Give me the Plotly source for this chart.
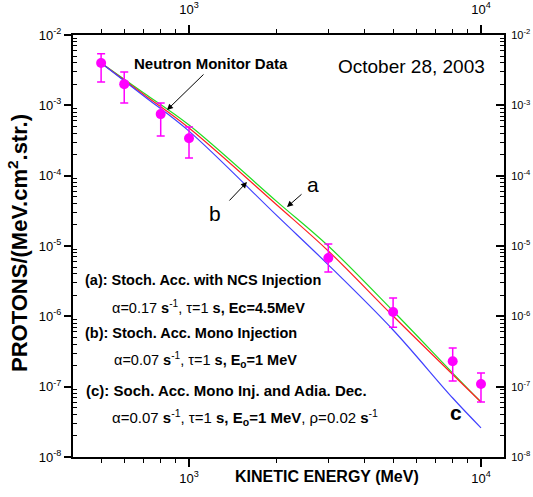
import plotly.graph_objects as go

# ---- data ----
energy_pts = [500, 600, 800, 1000, 3000, 5000, 8000, 10000]
flux_pts = [4.0e-3, 2.0e-3, 7.5e-4, 3.4e-4, 6.75e-6, 1.15e-6, 2.3e-7, 1.09e-7]
flux_hi = [5.4e-3, 2.98e-3, 1.08e-3, 4.9e-4, 1.07e-5, 1.82e-6, 3.55e-7, 1.56e-7]
flux_lo = [2.15e-3, 1.08e-3, 3.66e-4, 1.78e-4, 4.27e-6, 7.0e-7, 1.2e-7, 6.05e-8]

energy_curve = [500, 700, 1000, 2000, 3000, 5000, 8000, 10000]
curve_a = [4.0e-3, 1.5e-3, 5.25e-4, 4.28e-5, 1.0e-5, 1.19e-6, 1.56e-7, 6.05e-8]   # green
curve_b = [4.0e-3, 1.43e-3, 4.77e-4, 3.83e-5, 8.5e-6, 1.01e-6, 1.49e-7, 6.05e-8]  # red
curve_c = [4.0e-3, 1.36e-3, 4.3e-4, 2.7e-5, 5.4e-6, 6.4e-7, 6.9e-8, 2.6e-8]      # blue

x_tickvals = [1e3, 1e4]
x_ticktext = ["10<sup>3</sup>", "10<sup>4</sup>"]
y_exps = [-8, -7, -6, -5, -4, -3, -2]
y_tickvals = [10.0 ** e for e in y_exps]
y_ticktext = ["10<sup>%d</sup>" % e for e in y_exps]

x_minor = [m * 10 ** d for d in (2, 3) for m in range(2, 10) if 400 <= m * 10 ** d <= 9000]
y_minor = [m * 10.0 ** d for d in range(-8, -2) for m in range(2, 10)]

FONT = "Liberation Sans, Arial, sans-serif"

# plot area in pixels
L, R, T, B = 73, 504, 35, 457
W, H = 533, 497

def P(px, py):
    return (px - L) / (R - L), (B - py) / (B - T)

fig = go.Figure()
fig.add_trace(go.Scatter(x=energy_curve, y=curve_a, mode="lines",
                         line=dict(color="#22dd22", width=1.2, shape="spline"), showlegend=False))
fig.add_trace(go.Scatter(x=energy_curve, y=curve_b, mode="lines",
                         line=dict(color="#ff2020", width=1.2, shape="spline"), showlegend=False))
fig.add_trace(go.Scatter(x=energy_curve, y=curve_c, mode="lines",
                         line=dict(color="#4040ff", width=1.2, shape="spline"), showlegend=False))
fig.add_trace(go.Scatter(
    x=energy_pts, y=flux_pts, mode="markers",
    marker=dict(color="#ff00ff", size=10),
    error_y=dict(type="data", symmetric=False,
                 array=[h - f for h, f in zip(flux_hi, flux_pts)],
                 arrayminus=[f - l for f, l in zip(flux_pts, flux_lo)],
                 color="#ff00ff", thickness=1.5, width=4),
    showlegend=False))
# invisible trace for the mirrored axes
fig.add_trace(go.Scatter(x=[1000], y=[1e-3], xaxis="x2", yaxis="y2", mode="markers",
                         marker=dict(opacity=0), showlegend=False, hoverinfo="skip"))

xr = [2.6027, 4.0788]
yr = [-8, -2]
common_x = dict(type="log", range=xr, tickmode="array", tickvals=x_tickvals, ticktext=x_ticktext,
                ticks="outside", ticklen=8, tickwidth=1.5, tickcolor="black", automargin=False,
                showline=True, linecolor="black", linewidth=2, showgrid=False, zeroline=False,
                tickfont=dict(family=FONT, size=13, color="black"),
                minor=dict(tickmode="array", tickvals=x_minor, ticks="outside", ticklen=4,
                           tickwidth=1.2, tickcolor="black", showgrid=False))
common_y = dict(type="log", range=yr, tickmode="array", tickvals=y_tickvals, ticktext=y_ticktext,
                tickwidth=1.5, tickcolor="black", automargin=False,
                showline=True, linecolor="black", linewidth=2, showgrid=False, zeroline=False,
                tickfont=dict(family=FONT, size=13, color="black"),
                minor=dict(tickmode="array", tickvals=y_minor, ticks="inside", ticklen=4,
                           tickwidth=1, tickcolor="black", showgrid=False))

fig.update_layout(
    width=W, height=H,
    margin=dict(l=L, r=W - R, t=T, b=H - B, pad=0, autoexpand=False),
    paper_bgcolor="white", plot_bgcolor="white",
    xaxis=dict(**common_x, side="bottom"),
    xaxis2=dict(**common_x, side="top", overlaying="x", anchor="y", ticklabelstandoff=6),
    yaxis=dict(**common_y, side="left", ticks="outside", ticklen=7),
    yaxis2=dict(**{**common_y, "tickfont": dict(family=FONT, size=11, color="black")},
                side="right", overlaying="y", anchor="x", ticks="inside", ticklen=8,
                ticklabelstandoff=3),
    font=dict(family=FONT, color="black"),
)

ann = []
def text(px, py, s, size=13, xanchor="center", yanchor="middle", textangle=0):
    x, y = P(px, py)
    ann.append(dict(x=x, y=y, xref="paper", yref="paper", text=s, showarrow=False,
                    xanchor=xanchor, yanchor=yanchor, textangle=textangle,
                    font=dict(family=FONT, size=size, color="black")))

def arrow(tx, ty, hx, hy):
    x, y = P(hx, hy)
    ann.append(dict(x=x, y=y, xref="paper", yref="paper", text="", showarrow=True,
                    ax=tx - hx, ay=ty - hy, arrowhead=2, arrowsize=1.2, arrowwidth=1,
                    arrowcolor="black"))

# axis titles
text(327, 476, "<b>KINETIC ENERGY (MeV)</b>", size=16)
text(18, 243, "<b>PROTONS/(MeV.cm<sup>2</sup>.str.)</b>", size=22, textangle=-90)

text(211, 63, "<b>Neutron Monitor Data</b>", size=15)
arrow(205, 73, 167, 110)
text(411, 66, "October 28, 2003", size=19)

text(313, 184, "a", size=21)
arrow(303, 193, 287, 207)
text(215, 213, "b", size=21)
arrow(228, 202, 247, 182)
text(456, 412, "<b>c</b>", size=21)

text(83, 280, "<b>(a): Stoch. Acc. with NCS Injection</b>", size=14.5, xanchor="left")
text(110, 307, "α=0.17 <b>s</b><sup>-1</sup>, τ=1 <b>s, Ec=4.5MeV</b>", size=14.5, xanchor="left")
text(83, 333, "<b>(b): Stoch. Acc. Mono Injection</b>", size=14.5, xanchor="left")
text(112, 360, "α=0.07 <b>s</b><sup>-1</sup>, τ=1 <b>s, E<sub>o</sub>=1 MeV</b>", size=14.5, xanchor="left")
text(84, 390, "<b>(c): Soch. Acc. Mono Inj. and Adia. Dec.</b>", size=15, xanchor="left")
text(110, 417, "α=0.07 <b>s</b><sup>-1</sup>, τ=1 <b>s, E<sub>o</sub>=1 MeV</b>, ρ=0.02 <b>s</b><sup>-1</sup>",
     size=15, xanchor="left")

fig.update_layout(annotations=ann)
fig.write_html("out.html")
